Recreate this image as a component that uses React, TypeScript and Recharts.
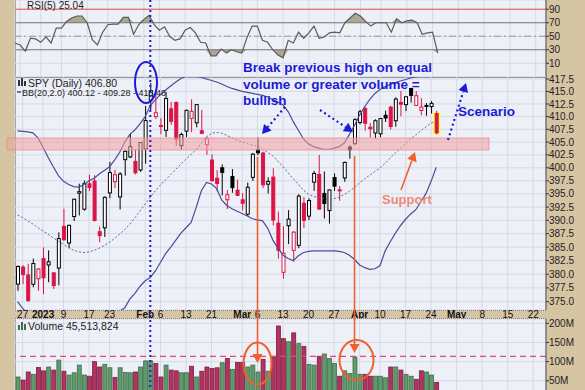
import React from "react";
import {
  ComposedChart,
  Bar,
  Line,
  Area,
  XAxis,
  YAxis,
  CartesianGrid,
  ReferenceLine,
} from "recharts";

const FONT = '"Liberation Sans", Arial, sans-serif';

// index -1 = Dec 23 2022, 0 = Dec 27, ... 81 = Apr 25 2023 (trading days)
const firstIndex = -1;
const slotCount = 104; // leaves room for the empty May dates on the right

const opens = [
  378.18, 381.31, 379.86, 378.16, 379.17, 382.89, 381.7, 380.25, 381.13, 388.86, 385.76, 390.72, 395.14, 392.1,
  396.94, 397.47, 387.86, 388.59, 395.19, 397.34, 394.42, 401.57, 402.1, 401.25, 399.58, 403.65, 413.26, 410.0,
  408.21, 407.29, 411.54, 412.81, 404.29, 407.14, 409.65, 408.77, 407.21, 404.49, 401.5, 397.98, 400.01, 393.89,
  398.33, 395.7, 393.88, 391.16, 398.17, 403.49, 402.86, 396.85, 398.2, 389.48, 380.34, 388.99, 384.4, 385.33,
  393.22, 390.8, 397.24, 398.73, 395.09, 391.84, 398.12, 395.77, 398.04, 404.02, 404.66, 408.85, 411.62, 407.91,
  406.77, 406.61, 410.26, 411.87, 409.18, 412.81, 412.37, 415.58, 412.22, 411.21, 412.19, 411.99, 410.58,
];
const highs = [
  381.58, 381.67, 381.91, 382.87, 381.1, 384.94, 384.39, 380.37, 387.75, 392.18, 389.14, 394.07, 396.95, 397.56,
  398.69, 398.58, 388.85, 394.51, 401.1, 399.6, 399.15, 403.36, 406.58, 403.57, 404.96, 412.07, 416.7, 415.36,
  409.7, 414.88, 412.93, 412.97, 406.86, 411.38, 413.45, 412.46, 411.32, 405.94, 402.6, 399.58, 400.65, 395.72,
  399.74, 397.74, 395.16, 397.15, 402.89, 405.88, 403.11, 398.17, 399.93, 391.64, 388.88, 391.93, 387.99, 394.94,
  394.4, 394.17, 399.41, 402.49, 399.29, 395.84, 398.92, 396.49, 401.2, 404.36, 409.7, 411.34, 411.92, 408.7,
  409.48, 409.69, 411.18, 412.17, 413.84, 415.09, 413.96, 415.72, 415.08, 413.7, 412.68, 413.07, 411.16,
];
const lows = [
  376.97, 378.18, 374.97, 377.62, 376.97, 376.37, 378.53, 377.3, 377.95, 386.17, 384.78, 389.87, 390.91, 391.82,
  395.53, 389.77, 385.89, 386.88, 394.19, 396.11, 392.04, 398.49, 401.88, 398.73, 399.22, 400.8, 411.29, 409.5,
  406.52, 406.0, 408.35, 404.24, 403.45, 406.0, 406.93, 407.89, 406.56, 402.49, 397.28, 395.49, 394.72, 392.12,
  395.22, 394.62, 391.86, 390.82, 397.49, 402.45, 396.1, 395.06, 389.02, 382.84, 379.18, 385.56, 382.23, 384.8,
  388.55, 390.07, 395.58, 392.07, 390.35, 389.4, 395.56, 393.69, 397.3, 401.76, 404.54, 408.44, 407.24, 405.88,
  405.68, 405.97, 408.92, 407.44, 407.99, 410.06, 411.08, 412.78, 412.16, 410.27, 410.17, 410.6, 406.5,
];
const closes = [
  381.43, 379.93, 375.21, 381.96, 380.95, 379.35, 382.28, 377.92, 386.58, 386.36, 389.07, 393.99, 395.43, 396.96,
  396.23, 389.98, 387.14, 394.35, 399.08, 398.66, 398.8, 403.19, 404.11, 399.04, 404.91, 409.21, 415.17, 410.76,
  408.25, 413.59, 409.06, 405.52, 406.47, 411.24, 411.05, 412.38, 406.7, 405.69, 397.55, 397.0, 399.11, 394.85,
  396.2, 394.73, 393.22, 396.27, 402.63, 402.91, 396.73, 397.38, 390.05, 384.42, 383.87, 390.22, 387.78, 394.58,
  389.99, 393.74, 398.91, 392.11, 393.17, 395.75, 396.49, 395.6, 401.04, 403.49, 409.39, 410.95, 408.67, 407.6,
  409.19, 409.61, 409.72, 408.05, 413.47, 412.46, 413.94, 414.21, 414.14, 411.88, 412.2, 412.63, 406.8,
];
// millions of shares
const volumes = [
  60, 52, 73, 67, 85, 76, 86, 78, 104, 75, 65, 71, 91, 65, 62, 100, 86, 93, 84, 59, 84, 72, 71, 73, 86, 102, 102,
  95, 60, 91, 78, 76, 71, 71, 88, 60, 75, 86, 82, 84, 97, 108, 80, 98, 98, 86, 91, 73, 106, 75, 114, 193, 160, 152,
  175, 147, 140, 93, 91, 114, 120, 108, 95, 62, 76, 69, 112, 67, 67, 62, 62, 62, 58, 86, 86, 78, 67, 62, 54, 76, 73,
  65, 46,
];
const rsi5 = [
  40, 37, 28, 47, 46, 41, 49, 40, 62, 62, 72, 77, 80, 80, 70, 45, 37, 56, 67, 68, 68, 78, 78, 53, 67, 75, 81, 67,
  59, 64, 50, 44, 46, 59, 63, 55, 41, 40, 21, 21, 31, 25, 30, 27, 25, 48, 65, 65, 44, 41, 30, 22, 18, 44, 40, 56,
  47, 55, 65, 47, 49, 55, 56, 55, 70, 77, 84, 80, 72, 65, 70, 70, 70, 56, 76, 70, 73, 74, 70, 53, 55, 56, 25.04,
];
const bbUpper = [
  407.2, 407.1, 407.0, 406.8, 405.8, 404.0, 402.0, 400.2, 398.5, 397.4, 396.8, 396.4, 396.3, 396.8, 397.5, 398.0,
  398.8, 399.5, 400.2, 401.5, 403.0, 405.0, 406.5, 407.4, 408.6, 410.0, 412.2, 413.3, 414.4, 415.3, 416.1, 416.9,
  417.6, 418.0, 418.1, 418.0, 417.8, 417.5, 417.2, 416.9, 416.5, 416.0, 415.6, 415.3, 415.0, 414.8, 414.6, 414.4,
  414.2, 413.9, 413.4, 412.9, 412.3, 411.0, 409.0, 407.3, 405.6, 404.6, 404.1, 403.8, 403.6, 403.6, 403.8, 404.1,
  404.8, 406.5, 408.3, 410.3, 412.0, 413.4, 414.6, 415.4, 416.0, 416.4, 416.8, 417.1, 417.4, 417.7, 417.9, 418.1,
  418.3, 418.4, 418.48,
];
const bbMiddle = [
  391.0, 390.5, 389.9, 389.3, 388.6, 388.0, 387.4, 386.7, 386.1, 385.5, 384.9, 384.4, 384.1, 384.0, 384.1, 384.4,
  384.8, 385.3, 385.9, 386.6, 387.4, 388.3, 389.3, 390.5, 391.8, 393.1, 394.4, 395.6, 396.7, 397.7, 398.7, 399.7,
  400.7, 401.7, 402.6, 403.5, 404.8, 406.0, 406.7, 406.9, 406.7, 406.3, 405.8, 405.4, 405.0, 404.7, 404.4, 404.2,
  403.6, 403.0, 402.3, 401.3, 400.2, 399.0, 397.9, 396.8, 395.7, 394.9, 394.5, 394.3, 394.1, 394.0, 394.1, 394.4,
  394.9, 395.5, 396.2, 397.1, 397.9, 398.6, 399.3, 400.0, 400.9, 401.9, 402.9, 403.8, 404.7, 405.6, 406.4, 407.2,
  408.0, 408.7, 409.28,
];
const bbLower = [
  375.0, 373.8, 372.8, 372.0, 371.3, 370.8, 370.5, 370.3, 370.3, 370.5, 370.8, 371.1, 371.4, 371.6, 371.9, 372.2,
  372.4, 372.6, 372.8, 373.0, 373.3, 373.9, 375.5, 376.5, 377.8, 378.8, 379.4, 380.6, 382.2, 383.8, 385.0, 386.3,
  387.6, 388.6, 389.6, 392.5, 395.6, 397.2, 396.9, 396.0, 393.8, 392.8, 392.2, 391.7, 391.3, 390.8, 390.3, 390.1,
  389.9, 388.5, 386.3, 384.8, 383.5, 382.9, 382.5, 383.4, 384.0, 384.2, 384.3, 384.3, 384.3, 384.3, 384.3, 384.2,
  384.0, 383.5, 382.7, 381.7, 381.2, 380.9, 381.0, 381.6, 384.3, 386.0, 387.6, 389.0, 390.2, 391.2, 392.0, 393.5,
  395.1, 397.4, 400.12,
];

const dateTicks = [0, 4, 8, 13, 17, 24, 27, 32, 37, 43, 46, 51, 56, 61, 66, 70, 75, 80, 85, 90, 95, 100];
const dateLabels = ["27", "2023", "9", "17", "23", "Feb", "6", "13", "21", "Mar", "6", "13", "20", "27", "Apr", "10", "17", "24", "May", "8", "15", "22"];
const boldLabels = ["2023", "Feb", "Mar", "Apr", "May"];

const priceTicks = [375, 377.5, 380, 382.5, 385, 387.5, 390, 392.5, 395, 397.5, 400, 402.5, 405, 407.5, 410, 412.5, 415, 417.5];
const rsiTicks = [10, 30, 50, 70, 90];
const volumeTicks = [50, 100, 150, 200];

const rows = Array.from({ length: slotCount }, (_, k) => {
  const i = k + firstIndex;
  if (k >= closes.length) return { i };
  const r = rsi5[k];
  return {
    i,
    open: opens[k],
    high: highs[k],
    low: lows[k],
    close: closes[k],
    prev: k > 0 ? closes[k - 1] : 0,
    range: [lows[k], highs[k]],
    vol: volumes[k],
    rsi: r,
    rsiHi: Math.max(r, 70),
    rsiLo: Math.min(r, 30),
    upper: bbUpper[k],
    mid: bbMiddle[k],
    lower: bbLower[k],
    last: k === closes.length - 1,
  };
});

// plot area geometry shared by the three panels
const W = 585;
const LEFT = 15;
const AXIS_W = 39;
const PAD = 6; // room above a panel so its top tick label is not cut
const band = (W - LEFT - AXIS_W) / slotCount;
const xOf = (i: number) => LEFT + (i - firstIndex + 0.5) * band;

const BLUE = "#1c1cd6";
const ORANGE = "#f0602c";
const RED = "#dc1446";

const axisTick = { fontSize: 10, fill: "#222", fontFamily: FONT };

function Candle(props: any) {
  const { x, y, width, height, payload } = props;
  if (!payload || payload.high == null) return <g />;
  const top = Math.min(y, y + height);
  const h = Math.abs(height);
  const lh = Math.log(payload.high);
  const span = lh - Math.log(payload.low) || 1;
  const py = (p: number) => top + ((lh - Math.log(p)) / span) * h;
  const color = payload.close >= payload.prev ? "#000" : RED;
  const hollow = payload.close > payload.open;
  const cx = x + width / 2;
  const yo = py(payload.open);
  const yc = py(payload.close);
  const bt = Math.min(yo, yc);
  const bh = Math.max(Math.abs(yc - yo), 1);
  return (
    <g>
      {payload.last && <rect x={x - 1.5} y={bt - 1.5} width={width + 3} height={bh + 3} fill="#ffff3c" />}
      <line x1={cx} x2={cx} y1={top} y2={top + h} stroke={color} strokeWidth={1} />
      <rect x={x + 0.5} y={bt} width={width - 1} height={bh} fill={hollow ? "#fff" : color} stroke={color} strokeWidth={1} />
    </g>
  );
}

function VolumeBar(props: any) {
  const { x, y, width, height, payload } = props;
  if (!payload || payload.vol == null) return <g />;
  const up = payload.close >= payload.prev;
  return (
    <rect x={x} y={y} width={width} height={height} fill={up ? "#5f9a6c" : "#b3335f"} stroke={up ? "#3f6d4a" : "#7d1d41"} strokeWidth={0.8} />
  );
}

function DateTick(props: any) {
  const { x, y, payload } = props;
  const n = dateTicks.indexOf(payload.value);
  if (n < 0) return <g />;
  const label = dateLabels[n];
  return (
    <text x={x} y={y + 8} textAnchor="middle" fontSize={10} fontFamily={FONT} fontWeight={boldLabels.includes(label) ? "bold" : "normal"} fill="#111">
      {label}
    </text>
  );
}

function arrow(x1: number, y1: number, x2: number, y2: number, color: string, dashed: boolean, key: string) {
  const len = Math.hypot(x2 - x1, y2 - y1);
  const ux = (x2 - x1) / len;
  const uy = (y2 - y1) / len;
  const hl = 9;
  const hw = 5;
  const bx = x2 - ux * hl;
  const by = y2 - uy * hl;
  const pts = `${x2},${y2} ${bx + uy * hw},${by - ux * hw} ${bx - uy * hw},${by + ux * hw}`;
  return (
    <g key={key}>
      <line x1={x1} y1={y1} x2={bx} y2={by} stroke={color} strokeWidth={dashed ? 2.2 : 1.6} strokeDasharray={dashed ? "2 3" : undefined} />
      <polygon points={pts} fill={color} />
    </g>
  );
}

const panel = (top: number, height: number): React.CSSProperties => ({
  position: "absolute",
  left: LEFT,
  top,
  width: W - LEFT - AXIS_W,
  height,
  background: "#eef0f8",
  borderLeft: "1px solid #777",
  boxSizing: "border-box",
});

export default function App() {
  const markX = xOf(25);
  const mar6 = xOf(46);
  const mar31 = xOf(65);
  return (
    <div style={{ position: "fixed", left: 0, top: 0, width: W, height: 390, overflow: "hidden", background: "#d6c5a3", fontFamily: FONT }}>
      <div style={panel(0, 77)} />
      <div style={{ ...panel(77, 233), borderTop: "1px solid #555" }} />
      <div style={{ position: "absolute", left: LEFT, top: 310, width: W - LEFT - AXIS_W, height: 9, borderTop: "1px dotted #333", borderBottom: "1px dotted #333", boxSizing: "border-box" }} />
      <div style={panel(319, 81)} />

      <div style={{ position: "absolute", left: 0, top: 0 }}>
        <ComposedChart width={W} height={77} data={rows} margin={{ top: 0, right: 0, bottom: 0, left: LEFT }}>
          <CartesianGrid stroke="#d5d9e6" />
          <XAxis dataKey="i" type="category" hide ticks={dateTicks} interval={0} />
          <YAxis orientation="right" width={AXIS_W} domain={[-10.4, 103.7]} allowDataOverflow ticks={rsiTicks} interval={0} tick={axisTick} tickSize={3} tickMargin={0} tickLine={{ stroke: "#333" }} axisLine={{ stroke: "#444" }} />
          <ReferenceLine y={90} stroke="#e0583f" />
          <ReferenceLine y={70} stroke="#7c7c7c" />
          <ReferenceLine y={50} stroke="#999" strokeDasharray="7 3 2 3" />
          <ReferenceLine y={30} stroke="#7c7c7c" />
          <Area dataKey="rsiHi" baseValue={70} fill="#a59d86" fillOpacity={0.9} stroke="none" isAnimationActive={false} />
          <Area dataKey="rsiLo" baseValue={30} fill="#a59d86" fillOpacity={0.9} stroke="none" isAnimationActive={false} />
          <Line dataKey="rsi" stroke="#5a5a5a" strokeWidth={1.2} dot={false} isAnimationActive={false} />
        </ComposedChart>
      </div>

      <div style={{ position: "absolute", left: 0, top: 77 - PAD }}>
        <ComposedChart width={W} height={242 + PAD} data={rows} margin={{ top: PAD, right: 0, bottom: 0, left: LEFT }}>
          <CartesianGrid stroke="#d5d9e6" />
          <XAxis dataKey="i" type="category" ticks={dateTicks} interval={0} height={9} tickLine={false} axisLine={false} tickSize={0} tickMargin={0} tick={DateTick} />
          <YAxis
            orientation="right"
            width={AXIS_W}
            scale="log"
            domain={[373.5, 417.9]}
            allowDataOverflow
            ticks={priceTicks}
            interval={0}
            tickFormatter={(v: number) => v.toFixed(1)}
            tick={axisTick}
            tickSize={3}
            tickMargin={0}
            tickLine={{ stroke: "#333" }}
            axisLine={{ stroke: "#444" }}
          />
          <Bar dataKey="range" barSize={4} shape={Candle} isAnimationActive={false} />
          <Line dataKey="upper" stroke="#4b4b9a" strokeWidth={1.2} dot={false} isAnimationActive={false} />
          <Line dataKey="lower" stroke="#4b4b9a" strokeWidth={1.2} dot={false} isAnimationActive={false} />
          <Line dataKey="mid" stroke="#5a64a8" strokeWidth={1} strokeDasharray="2 2" dot={false} isAnimationActive={false} />
        </ComposedChart>
      </div>

      <div style={{ position: "absolute", left: 0, top: 319 - PAD }}>
        <ComposedChart width={W} height={81 + PAD} data={rows} margin={{ top: PAD, right: 0, bottom: 0, left: LEFT }}>
          <CartesianGrid stroke="#d5d9e6" />
          <XAxis dataKey="i" type="category" hide ticks={dateTicks} interval={0} />
          <YAxis orientation="right" width={AXIS_W} domain={[0, 211.2]} allowDataOverflow ticks={volumeTicks} interval={0} tickFormatter={(v: number) => `${v}M`} tick={axisTick} tickSize={3} tickMargin={0} tickLine={{ stroke: "#333" }} axisLine={{ stroke: "#444" }} />
          <ReferenceLine y={114} stroke="#e0487a" strokeDasharray="6 4" strokeWidth={1.2} />
          <Bar dataKey="vol" barSize={4} shape={VolumeBar} isAnimationActive={false} />
        </ComposedChart>
      </div>

      <svg width={W} height={390} style={{ position: "absolute", left: 0, top: 0, pointerEvents: "none" }} fontFamily={FONT}>
        {/* legends */}
        <text x={27} y={8.5} fontSize={10} fill="#222">RSI(5) 25.04</text>
        <rect x={18} y={80} width={2} height={6} fill="#333" />
        <rect x={21} y={78} width={2} height={8} fill="#333" />
        <rect x={24} y={81} width={2} height={5} fill="#333" />
        <text x={28} y={87} fontSize={10.5} fill="#222">SPY (Daily) 406.80</text>
        <line x1={17} x2={21} y1={92} y2={92} stroke="#4b4b9a" strokeWidth={1.5} />
        <text x={22} y={95.5} fontSize={9} fill="#222">BB(20,2.0) 400.12 - 409.28 - 418.48</text>
        <rect x={18} y={325} width={2} height={5} fill="#3f6d4a" />
        <rect x={21} y={322} width={2} height={8} fill="#3f6d4a" />
        <rect x={24} y={324} width={2} height={6} fill="#3f6d4a" />
        <text x={28} y={330} fontSize={10.5} fill="#222">Volume 45,513,824</text>

        {/* support band */}
        <rect x={7} y={138} width={482} height={12} fill="#f2a0a0" fillOpacity={0.55} stroke="#e48a8a" strokeOpacity={0.7} />

        {/* Feb 2 high marker */}
        <line x1={markX} x2={markX} y1={0} y2={390} stroke={BLUE} strokeWidth={2} strokeDasharray="2 3" />
        <ellipse cx={146} cy={82.5} rx={11} ry={20.5} fill="none" stroke={BLUE} strokeWidth={2} />

        {/* notes */}
        <g fill={BLUE} fontWeight="bold" fontSize={13.5}>
          <text x={243} y={71.5}>Break previous high on equal</text>
          <text x={243} y={88.5}>volume or greater volume =</text>
          <text x={243} y={105}>bullish</text>
          <text x={458} y={116}>Scenario</text>
        </g>
        <text x={382} y={203.5} fill="#f08878" fontWeight="bold" fontSize={13}>Support</text>

        {arrow(285, 107, 262, 134, BLUE, true, "a1")}
        {arrow(320, 110, 353, 132, BLUE, true, "a2")}
        {arrow(448, 140, 466, 83, BLUE, true, "a3")}
        {arrow(401, 190, 415, 152, ORANGE, false, "a4")}
        {arrow(mar6, 157, mar6, 363, ORANGE, false, "a5")}
        {arrow(mar31, 156, mar31, 353, ORANGE, false, "a6")}
        <ellipse cx={mar6} cy={363.5} rx={14} ry={21} fill="none" stroke={ORANGE} strokeWidth={2} />
        <ellipse cx={mar31 + 2} cy={360} rx={17} ry={20} fill="none" stroke={ORANGE} strokeWidth={2} />
      </svg>
    </div>
  );
}
